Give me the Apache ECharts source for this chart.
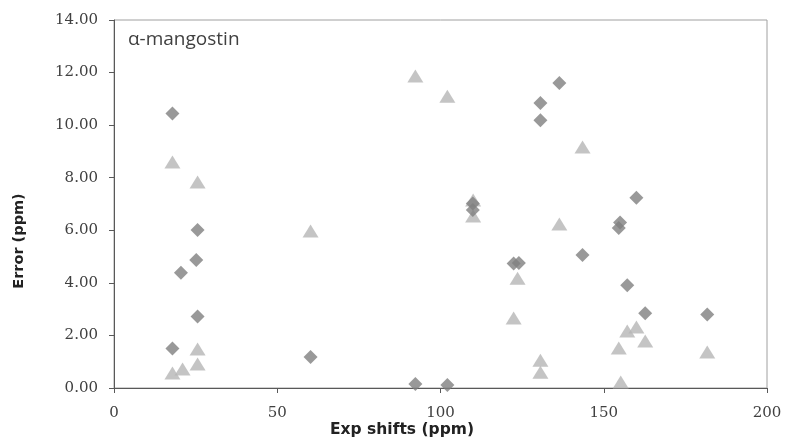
<!DOCTYPE html>
<html>
<head>
<meta charset="utf-8">
<script src="https://cdn.jsdelivr.net/npm/echarts@6/dist/echarts.min.js"></script>
<style>
  html, body { margin: 0; padding: 0; background: #fff; }
  #chart { width: 785px; height: 437px; }
</style>
</head>
<body>
<div id="chart"></div>
<script>
// Experimental shifts (ppm) and prediction errors (ppm), two computational methods
const diamondShifts = [17.9, 17.9, 20.5, 25.6, 25.2, 25.6, 60.2, 92.3, 102.1, 109.9, 109.9, 122.4, 124.0, 130.6, 130.6, 136.4, 143.5, 154.6, 155.0, 157.2, 160.0, 162.7, 181.7];
const diamondErrors = [10.44, 1.50, 4.38, 6.01, 4.87, 2.72, 1.18, 0.15, 0.11, 7.02, 6.77, 4.74, 4.76, 10.84, 10.19, 11.60, 5.06, 6.09, 6.30, 3.91, 7.24, 2.84, 2.80];

const triangleShifts = [17.9, 17.9, 21.0, 25.6, 25.6, 25.6, 60.2, 92.3, 102.1, 110.0, 110.0, 122.4, 123.6, 130.6, 130.6, 136.4, 143.5, 154.6, 155.2, 157.2, 160.0, 162.7, 181.7];
const triangleErrors = [8.60, 0.57, 0.72, 7.84, 1.48, 0.91, 5.97, 11.87, 11.10, 7.15, 6.54, 2.66, 4.18, 1.06, 0.60, 6.24, 9.17, 1.52, 0.23, 2.17, 2.32, 1.79, 1.37];

const xTicks = [0, 50, 100, 150, 200];
const yTicks = [0, 2, 4, 6, 8, 10, 12, 14];

const pairs = (xs, ys) => xs.map((x, i) => [x, ys[i]]);

const tickFont = { fontFamily: 'DejaVu Serif', fontSize: 15, color: '#404040' };

const chart = echarts.init(document.getElementById('chart'));
chart.setOption({
  animation: false,
  backgroundColor: '#ffffff',
  grid: {
    left: 114, right: 18, top: 20, bottom: 49,
    outerBoundsMode: 'none', containLabel: false,
    show: true, borderColor: '#a0a0a0', borderWidth: 1, backgroundColor: 'transparent'
  },
  graphic: [
    {
      type: 'text', left: 128, top: 30,
      style: { text: 'α-mangostin', font: '19px "Open Sans", sans-serif', fill: '#404040' }
    },
    {
      type: 'text', x: 19, y: 241, rotation: Math.PI / 2,
      style: { text: 'Error (ppm)', font: 'bold 14.5px "DejaVu Sans"', fill: '#222',
        align: 'center', verticalAlign: 'middle' }
    },
    {
      type: 'text', x: 402, y: 430,
      style: { text: 'Exp shifts (ppm)', font: 'bold 15.5px "DejaVu Sans"', fill: '#222',
        align: 'center', verticalAlign: 'middle' }
    }
  ],
  xAxis: {
    type: 'value', min: xTicks[0], max: xTicks[xTicks.length - 1], interval: 50,
    axisLine: { lineStyle: { color: '#595959', width: 1 } },
    axisTick: { inside: false, length: 5, lineStyle: { color: '#595959' } },
    axisLabel: Object.assign({ margin: 18 }, tickFont),
    splitLine: { show: false }
  },
  yAxis: {
    type: 'value', min: yTicks[0], max: yTicks[yTicks.length - 1], interval: 2,
    axisLine: { show: true, lineStyle: { color: '#595959', width: 1 } },
    axisTick: { show: true, inside: false, length: 5, lineStyle: { color: '#595959' } },
    axisLabel: Object.assign({ margin: 16, formatter: v => v.toFixed(2) }, tickFont),
    splitLine: { show: false }
  },
  series: [
    {
      type: 'scatter', name: 'diamond',
      data: pairs(diamondShifts, diamondErrors),
      symbol: 'diamond', symbolSize: [14, 14],
      itemStyle: { color: '#7f7f7f' }, z: 3
    },
    {
      type: 'scatter', name: 'triangle',
      data: pairs(triangleShifts, triangleErrors),
      symbol: 'triangle', symbolSize: [16, 13],
      itemStyle: { color: '#b5b5b5' }, z: 2
    }
  ]
});
</script>
</body>
</html>
